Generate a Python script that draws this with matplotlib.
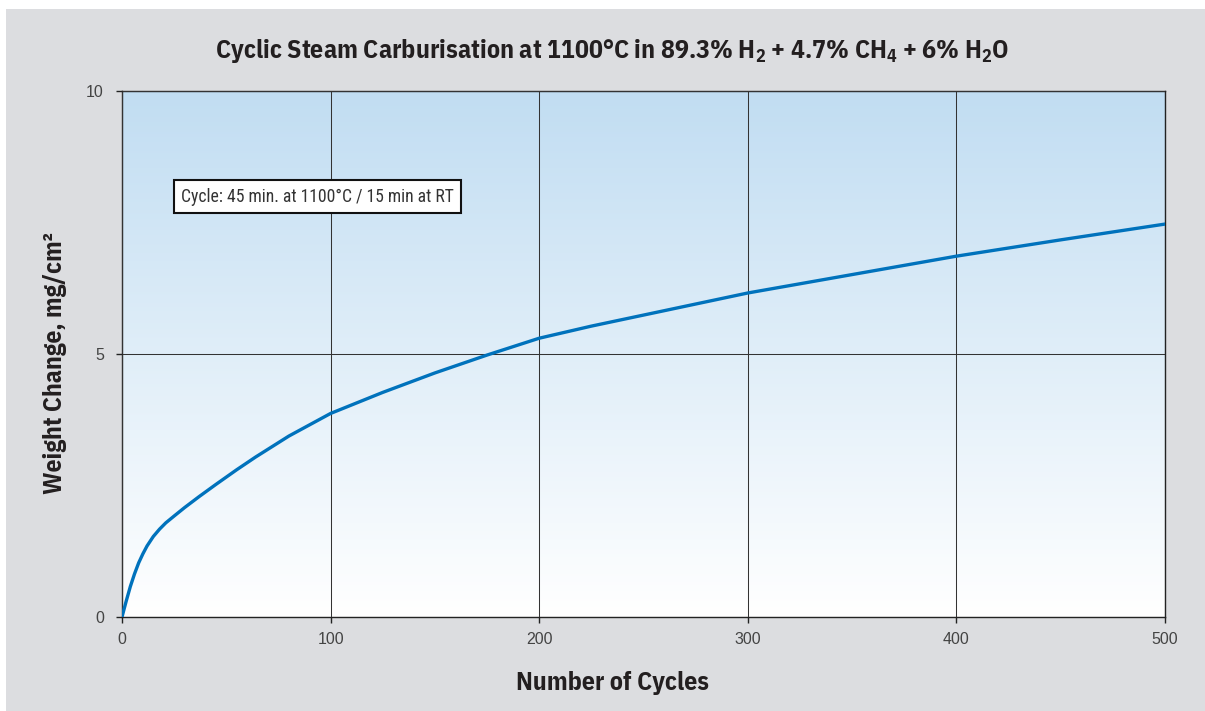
import numpy as np
import matplotlib.pyplot as plt
from matplotlib.patches import Rectangle

# Curve
cycles = [0, 2, 4, 6, 8, 10, 12, 15, 18, 21, 25, 30, 37, 45, 55, 64, 80, 100,
          125, 150, 175, 200, 225, 250, 300, 350, 400, 450, 500]
weight = [0, 0.30, 0.58, 0.82, 1.03, 1.20, 1.35, 1.53, 1.67, 1.79, 1.92, 2.08,
          2.29, 2.52, 2.80, 3.04, 3.44, 3.87, 4.27, 4.64, 4.98, 5.30, 5.53,
          5.74, 6.16, 6.51, 6.86, 7.17, 7.47]

x_ticks = [0, 100, 200, 300, 400, 500]
y_ticks = [0, 5, 10]

title = r'Cyclic Steam Carburisation at 1100°C in 89.3% H$_2$ + 4.7% CH$_4$ + 6% H$_2$O'
note = 'Cycle: 45 min. at 1100°C / 15 min at RT'

bold_cond = ['IBM Plex Sans Condensed', 'Roboto Condensed', 'DejaVu Sans']
cond = ['Roboto Condensed', 'Liberation Sans Narrow', 'DejaVu Sans']
plt.rcParams['font.family'] = ['Liberation Sans', 'DejaVu Sans']
plt.rcParams['mathtext.default'] = 'regular'

fig = plt.figure(figsize=(12.05, 7.11), dpi=100, facecolor='white')
# grey panel behind the chart
fig.patches.append(Rectangle((6 / 1205, 0), 1, 1 - 9 / 711, transform=fig.transFigure,
                             facecolor='#dcdde0', edgecolor='none', zorder=-10))

ax = fig.add_axes([122 / 1205, 1 - 617 / 711, (1165 - 122) / 1205, (617 - 91) / 711])
ax.set_facecolor('none')

# vertical gradient, light blue at top to white at bottom
grad = np.linspace(0, 1, 256).reshape(-1, 1)
top = np.array([0.757, 0.867, 0.949])
bot = np.array([1.0, 1.0, 1.0])
img = bot + (top - bot) * grad[..., None]
ax.imshow(img, extent=[0, 1, 0, 1], transform=ax.transAxes, aspect='auto',
          origin='lower', zorder=0)

ax.plot(cycles, weight, color='#0072bc', lw=2.4, zorder=3, solid_capstyle='round')

ax.set_xlim(0, 500)
ax.set_ylim(0, 10)
ax.set_xticks(x_ticks)
ax.set_yticks(y_ticks)
ax.grid(True, color='#333333', lw=0.75, zorder=1)
ax.set_axisbelow(False)
for s in ax.spines.values():
    s.set_color('#222222')
    s.set_linewidth(1.0)
ax.tick_params(direction='out', length=4, width=1.0, color='#222222',
               labelcolor='#444444', labelsize=11.5)
ax.tick_params(axis='x', pad=7)
ax.tick_params(axis='y', pad=9)

t_note = ax.text((181 - 122) / (1165 - 122), (617 - 196.5) / (617 - 91),
                 note, transform=ax.transAxes, family=cond, fontsize=11, color='#333333',
                 va='center', ha='left',
                 bbox=dict(boxstyle='square,pad=0.4', facecolor='white',
                           edgecolor='#111111', lw=1.5),
                 zorder=5)

t_title = fig.text(612 / 1205, 1 - 51 / 711, title, family=bold_cond, weight='bold',
                   fontsize=15, color='#231f20', ha='center', va='center')
t_x = fig.text(612 / 1205, 1 - 683 / 711, 'Number of Cycles', family=bold_cond,
               weight='bold', fontsize=15, color='#231f20', ha='center', va='center')
t_y = fig.text(55 / 1205, 1 - 363 / 711, 'Weight Change, mg/cm²', family=bold_cond,
               weight='bold', fontsize=15, color='#231f20', ha='center', va='center',
               rotation=90)

# size the texts to the widths they take in the reference
fig.canvas.draw()
r = fig.canvas.get_renderer()
for t, target, vertical in [(t_title, 797, False), (t_x, 193, False),
                            (t_y, 263, True), (t_note, 272, False)]:
    bb = t.get_window_extent(r)
    size = bb.height if vertical else bb.width
    t.set_fontsize(t.get_fontsize() * target / size)

fig.savefig('out.png', dpi=100, facecolor=fig.get_facecolor())
